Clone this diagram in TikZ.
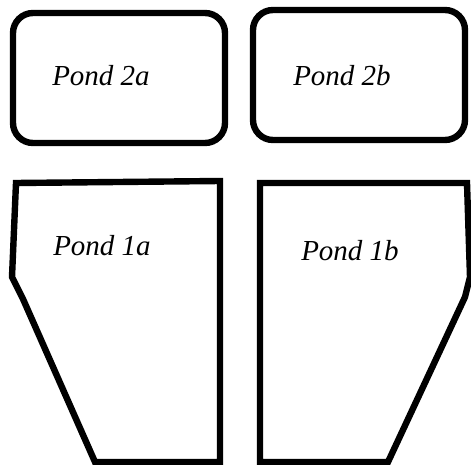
\documentclass[tikz,border=0pt]{standalone}
\usepackage{fontspec}
\setmainfont{Liberation Serif}
\newfontfamily\pondfont{Liberation Serif}

\begin{document}
\begin{tikzpicture}[x=0.5pt, y=-0.5pt,
    pond/.style={draw=black, line width=3.2pt, line join=miter},
    pondlabel/.style={font=\pondfont\fontsize{14.5}{16}\selectfont\itshape, inner sep=0pt}]
    \useasboundingbox (0,0) rectangle (471,465);
    \draw[pond, rounded corners=10pt] (13,13) rectangle (225,143);
    \draw[pond, rounded corners=10pt] (253,10) rectangle (465,140);
    \draw[pond] (16,183) -- (220,181) -- (220,462) -- (95,462) -- (23,299) -- (12,277) -- cycle;
    \draw[pond] (260,183) -- (467,183) -- (470,277) -- (465,297) -- (388,462) -- (260,462) -- cycle;
    \node[pondlabel] (p2a) at (101,76) {Pond 2a};
    \node[pondlabel] (p2b) at (342,76) {Pond 2b};
    \node[pondlabel] (p1a) at (102,246) {Pond 1a};
    \node[pondlabel] (p1b) at (350,251) {Pond 1b};
\end{tikzpicture}
\end{document}
